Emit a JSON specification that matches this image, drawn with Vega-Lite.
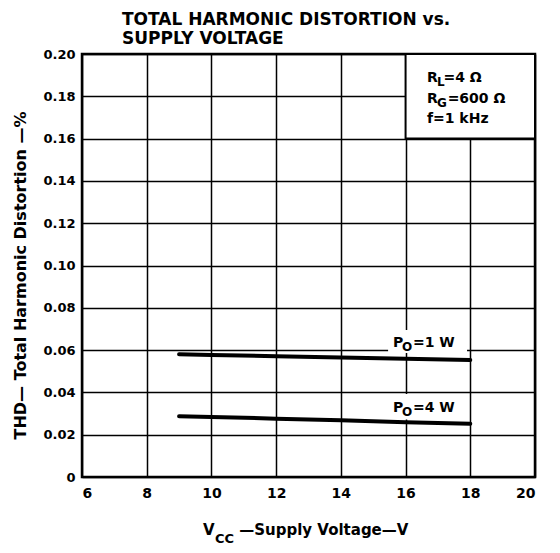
{
  "$schema": "https://vega.github.io/schema/vega-lite/v6.json",
  "width": 453,
  "height": 423,
  "autosize": "none",
  "padding": {"left": 82, "top": 54, "right": 25, "bottom": 76},
  "background": "white",
  "title": {
    "text": ["TOTAL HARMONIC DISTORTION vs.", "SUPPLY VOLTAGE"],
    "anchor": "start",
    "frame": "group",
    "dx": 40,
    "offset": 0,
    "font": "DejaVu Sans",
    "fontSize": 17,
    "fontWeight": "bold",
    "lineHeight": 19,
    "color": "black"
  },
  "config": {
    "view": {"stroke": "black", "strokeWidth": 2.5},
    "axis": {
      "grid": true,
      "gridColor": "black",
      "gridWidth": 1.5,
      "gridOpacity": 1,
      "domain": false,
      "ticks": false,
      "labelFont": "DejaVu Sans",
      "labelFontWeight": "bold",
      "labelFontSize": 13,
      "labelColor": "black",
      "titleFont": "DejaVu Sans",
      "titleFontWeight": "bold",
      "titleColor": "black"
    },
    "text": {"font": "DejaVu Sans", "fontWeight": "bold", "color": "black"}
  },
  "datasets": {
    "curves": [
      {"v": 9, "thd": 0.0580, "series": "1W"},
      {"v": 10, "thd": 0.0577, "series": "1W"},
      {"v": 12, "thd": 0.0571, "series": "1W"},
      {"v": 14, "thd": 0.0565, "series": "1W"},
      {"v": 16, "thd": 0.0559, "series": "1W"},
      {"v": 18, "thd": 0.0553, "series": "1W"},
      {"v": 9, "thd": 0.0287, "series": "4W"},
      {"v": 10, "thd": 0.0284, "series": "4W"},
      {"v": 12, "thd": 0.0276, "series": "4W"},
      {"v": 14, "thd": 0.0268, "series": "4W"},
      {"v": 16, "thd": 0.0259, "series": "4W"},
      {"v": 18, "thd": 0.0252, "series": "4W"}
    ],
    "boxes": [
      {"x1": 16, "x2": 20, "y1": 0.16, "y2": 0.20, "kind": "legend"},
      {"x1": 15.46, "x2": 17.9, "y1": 0.0586, "y2": 0.0695, "kind": "label"},
      {"x1": 15.46, "x2": 17.9, "y1": 0.0272, "y2": 0.0392, "kind": "label"}
    ],
    "texts": [
      {"x": 16.66, "y": 0.1869, "text": "R", "role": "main"},
      {"x": 16.97, "y": 0.1869, "text": "L", "role": "sub"},
      {"x": 17.17, "y": 0.1869, "text": "=4 Ω", "role": "main"},
      {"x": 16.66, "y": 0.1768, "text": "R", "role": "main"},
      {"x": 16.97, "y": 0.1768, "text": "G", "role": "sub"},
      {"x": 17.3, "y": 0.1768, "text": "=600 Ω", "role": "main"},
      {"x": 16.66, "y": 0.1674, "text": "f=1 kHz", "role": "main"},
      {"x": 15.61, "y": 0.0615, "text": "P", "role": "main"},
      {"x": 15.89, "y": 0.0615, "text": "O", "role": "sub"},
      {"x": 16.23, "y": 0.0615, "text": "=1 W", "role": "main"},
      {"x": 15.61, "y": 0.0307, "text": "P", "role": "main"},
      {"x": 15.89, "y": 0.0307, "text": "O", "role": "sub"},
      {"x": 16.23, "y": 0.0307, "text": "=4 W", "role": "main"},
      {"x": 9.74, "y": -0.0274, "text": "V", "role": "xmain"},
      {"x": 10.11, "y": -0.0274, "text": "CC", "role": "xsub"},
      {"x": 10.86, "y": -0.0274, "text": "—Supply Voltage—V", "role": "xmain"}
    ]
  },
  "layer": [
    {
      "data": {"name": "boxes"},
      "mark": {"type": "rect", "fill": "white", "stroke": "black", "strokeWidth": 2},
      "transform": [{"filter": "datum.kind == 'legend'"}],
      "encoding": {
        "x": {"field": "x1", "type": "quantitative", "scale": {"domain": [6, 20], "nice": false},
          "axis": {"values": [6, 8, 10, 12, 14, 16, 18, 20], "title": null, "labelPadding": 9, "labelFontSize": 14}},
        "x2": {"field": "x2"},
        "y": {"field": "y1", "type": "quantitative", "scale": {"domain": [0, 0.2], "nice": false},
          "axis": {"values": [0, 0.02, 0.04, 0.06, 0.08, 0.1, 0.12, 0.14, 0.16, 0.18, 0.2],
            "labelExpr": "datum.value == 0 ? '0' : format(datum.value, '.2f')",
            "labelPadding": 7,
            "title": "THD— Total Harmonic Distortion —%",
            "titleFontSize": 16,
            "titleAngle": -90,
            "titleX": -62,
            "titleY": 221,
            "titleAlign": "center",
            "titleBaseline": "middle"}},
        "y2": {"field": "y2"}
      }
    },
    {
      "data": {"name": "boxes"},
      "mark": {"type": "rect", "fill": "white"},
      "transform": [{"filter": "datum.kind == 'label'"}],
      "encoding": {
        "x": {"field": "x1", "type": "quantitative"},
        "x2": {"field": "x2"},
        "y": {"field": "y1", "type": "quantitative"},
        "y2": {"field": "y2"}
      }
    },
    {
      "data": {"name": "curves"},
      "mark": {"type": "line", "color": "black", "strokeWidth": 4, "strokeCap": "round"},
      "encoding": {
        "x": {"field": "v", "type": "quantitative"},
        "y": {"field": "thd", "type": "quantitative"},
        "detail": {"field": "series"}
      }
    },
    {
      "data": {"name": "texts"},
      "transform": [{"filter": "datum.role == 'main'"}],
      "mark": {"type": "text", "align": "left", "baseline": "alphabetic", "fontSize": 14},
      "encoding": {
        "x": {"field": "x", "type": "quantitative"},
        "y": {"field": "y", "type": "quantitative"},
        "text": {"field": "text"}
      }
    },
    {
      "data": {"name": "texts"},
      "transform": [{"filter": "datum.role == 'sub'"}],
      "mark": {"type": "text", "align": "left", "baseline": "alphabetic", "fontSize": 12, "dy": 4},
      "encoding": {
        "x": {"field": "x", "type": "quantitative"},
        "y": {"field": "y", "type": "quantitative"},
        "text": {"field": "text"}
      }
    },
    {
      "data": {"name": "texts"},
      "transform": [{"filter": "datum.role == 'xmain'"}],
      "mark": {"type": "text", "align": "left", "baseline": "alphabetic", "fontSize": 15},
      "encoding": {
        "x": {"field": "x", "type": "quantitative"},
        "y": {"field": "y", "type": "quantitative"},
        "text": {"field": "text"}
      }
    },
    {
      "data": {"name": "texts"},
      "transform": [{"filter": "datum.role == 'xsub'"}],
      "mark": {"type": "text", "align": "left", "baseline": "alphabetic", "fontSize": 13, "dy": 8},
      "encoding": {
        "x": {"field": "x", "type": "quantitative"},
        "y": {"field": "y", "type": "quantitative"},
        "text": {"field": "text"}
      }
    }
  ]
}
